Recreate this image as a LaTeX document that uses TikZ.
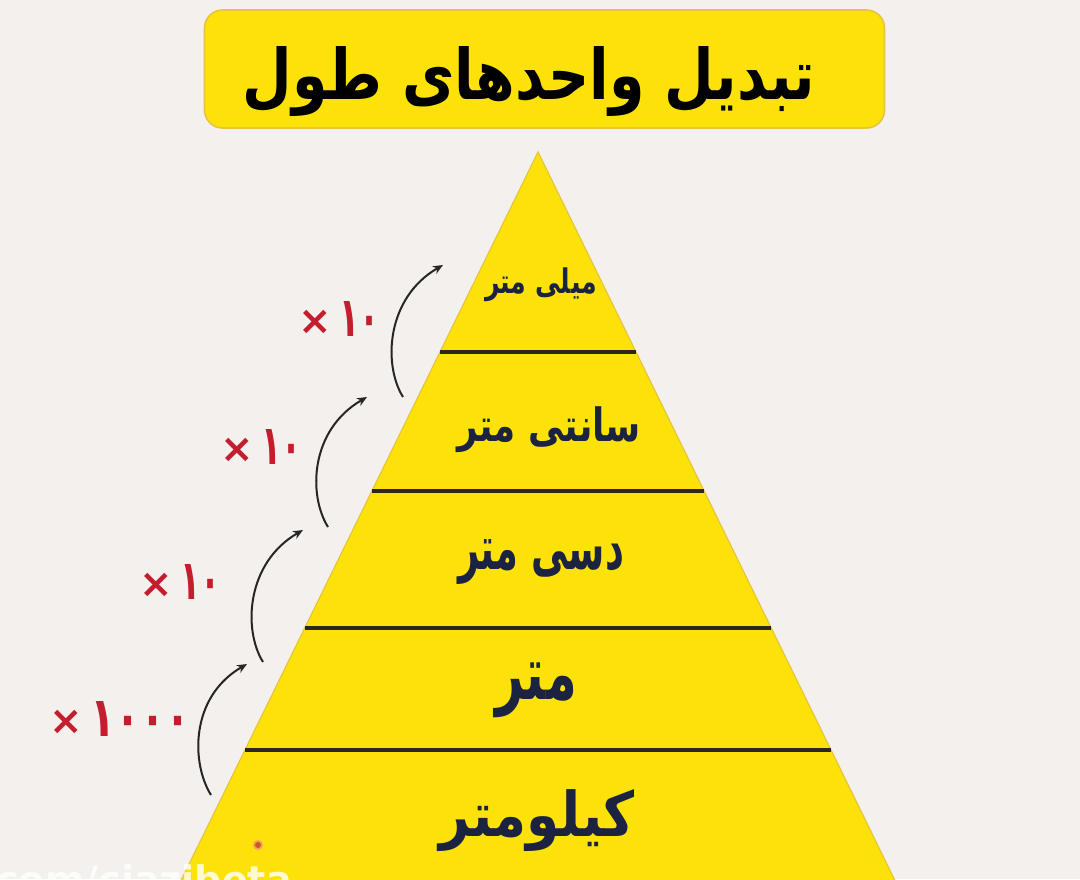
\documentclass[tikz,border=0pt]{standalone}
\usepackage{fontspec}
\setmainfont{DejaVu Sans}
\newfontfamily\arabicfont[Script=Arabic]{DejaVu Sans}
\TeXXeTstate=1
\usetikzlibrary{arrows.meta}
\definecolor{bgc}{HTML}{F3F0ED}
\definecolor{yel}{HTML}{FDE20A}
\definecolor{yedge}{HTML}{E6C53C}
\definecolor{navy}{HTML}{1B2340}
\definecolor{redc}{HTML}{C41E2E}
\definecolor{linec}{HTML}{2A281C}
\definecolor{dotc}{HTML}{C8582A}
\definecolor{doth}{HTML}{F4A05A}
\newcommand{\fitwh}[3]{\resizebox*{#1}{#2}{#3}}
\newcommand{\faword}[1]{\arabicfont\bfseries\beginR #1\endR}
\newcommand{\mlabel}[2]{\raisebox{1pt}{\bfseries\fontsize{20}{24}\selectfont ×}\hspace{3.5pt}\fitwh{#1}{17.5pt}{\bfseries #2}}
\tikzset{
  titlebox/.style={fill=yel, draw=yedge, line width=0.8pt, rounded corners=9pt, minimum width=340pt, minimum height=59pt, inner sep=0pt},
  unitlbl/.style={text=navy, inner sep=0pt},
  mult/.style={text=redc, inner sep=0pt},
  conn/.style={draw=black!85, line width=1pt, -{Stealth[length=5pt,width=4.2pt]}},
  divider/.style={draw=linec, line width=1.6pt},
}
\begin{document}
\begin{tikzpicture}[x=0.5pt,y=-0.5pt]
\useasboundingbox (0,0) rectangle (1080,879);
\clip (0,0) rectangle (1080,879);
\fill[bgc] (0,0) rectangle (1080,879);
% title
\node[titlebox] (tbox) at (544.5,69) {};
\node[text=black, inner sep=0pt] (title) at (529,82) {\fitwh{286pt}{35pt}{\faword{تبدیل واحدهای طول}}};
% pyramid
\fill[yel, draw=yedge, line width=0.6pt] (538,152) -- (538+0.49*848,1000) -- (538-0.49*848,1000) -- cycle;
\foreach \yy in {352,491,628,750}{
  \draw[divider] (538-0.49*\yy+0.49*152,\yy) -- (538+0.49*\yy-0.49*152,\yy);
}
% unit labels
\node[unitlbl] (mm) at (541,285) {\fitwh{56pt}{17pt}{\faword{میلی متر}}};
\node[unitlbl] (cm) at (549,430) {\fitwh{92pt}{23pt}{\faword{سانتی متر}}};
\node[unitlbl] (dm) at (541,562) {\fitwh{83pt}{22.5pt}{\faword{دسی متر}}};
\node[unitlbl] (m) at (536,690) {\fitwh{41pt}{27.5pt}{\faword{متر}}};
\node[unitlbl] (km) at (537,821) {\fitwh{98pt}{31pt}{\faword{کیلومتر}}};
% arrows
\coordinate (a1s) at (403,397); \coordinate (a1e) at (443,265);
\coordinate (a2s) at (328,527); \coordinate (a2e) at (367,397);
\coordinate (a3s) at (263,662); \coordinate (a3e) at (303,530);
\coordinate (a4s) at (211,795); \coordinate (a4e) at (247,664);
\foreach \i in {1,2,3,4}{
  \draw[conn] (a\i s) .. controls +(-20,-32) and +(-57,33) .. (a\i e);
}
% multipliers
\node[mult] (x1) at (339,319) {\mlabel{20pt}{۱۰}};
\node[mult] (x2) at (261,447) {\mlabel{20pt}{۱۰}};
\node[mult] (x3) at (180,582) {\mlabel{20pt}{۱۰}};
\node[mult] (x4) at (120,719) {\mlabel{50pt}{۱۰۰۰}};
% watermark and dot
\fill[doth] (258,845) circle (5);
\fill[dotc] (258,845) circle (3);
\node[anchor=base west, text=white, opacity=0.8, inner sep=0pt, font=\bfseries\fontsize{19}{22}\selectfont] (wm) at (-4,893) {com/ciazibeta};
\end{tikzpicture}
\end{document}
